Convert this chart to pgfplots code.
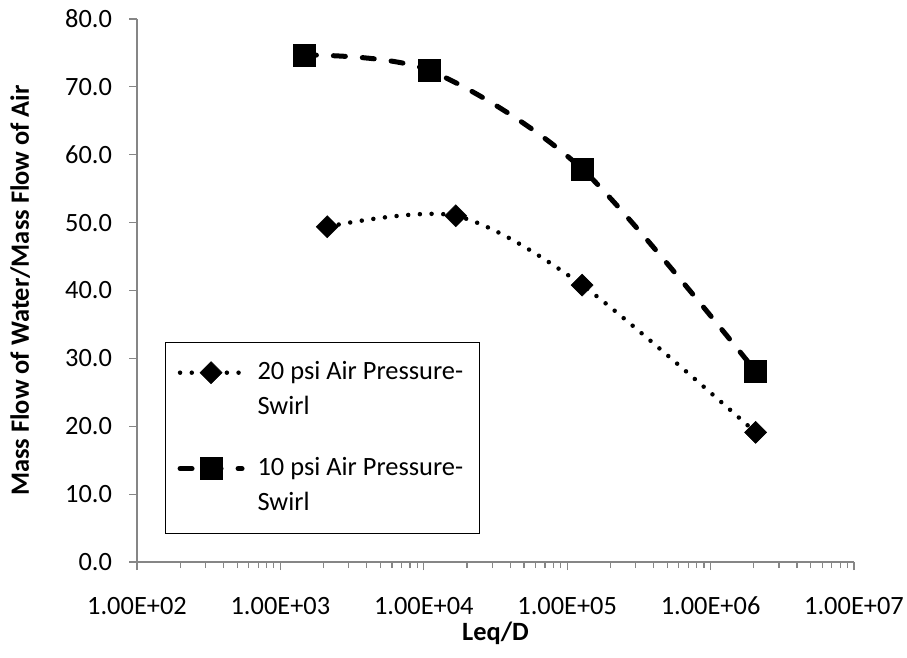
\documentclass[border=0pt]{standalone}
\usepackage{pgfplots}
\pgfplotsset{compat=1.18}
\usepackage{fontspec}
\setmainfont{Carlito}
\definecolor{axgray}{RGB}{134,134,134}
\begin{document}
\fontsize{26.5}{32}\selectfont
\begin{tikzpicture}
\useasboundingbox (-137bp,-96bp) rectangle (770bp,562bp);
\begin{axis}[
  scale only axis,
  width=717bp, height=543bp,
  xmode=log, log basis x=10,
  xmin=100, xmax=1e7,
  ymin=0, ymax=80,
  axis x line=bottom, axis y line=left,
  axis line style={draw=axgray, line width=1.5bp, -},
  tick style={draw=axgray, line width=1.2bp},
  tick align=outside,
  major tick length=8bp, minor tick length=6bp,
  xtick={1e2,1e3,1e4,1e5,1e6,1e7},
  xticklabels={1.00E+02,1.00E+03,1.00E+04,1.00E+05,1.00E+06,1.00E+07},
  minor xtick={200,300,400,500,600,700,800,900,
    2000,3000,4000,5000,6000,7000,8000,9000,
    20000,30000,40000,50000,60000,70000,80000,90000,
    200000,300000,400000,500000,600000,700000,800000,900000,
    2000000,3000000,4000000,5000000,6000000,7000000,8000000,9000000},
  ytick={0,10,20,30,40,50,60,70,80},
  yticklabel style={xshift=-8bp, /pgf/number format/fixed, /pgf/number format/fixed zerofill, /pgf/number format/precision=1},
  /pgf/number format/assume math mode=true,
  xticklabel style={yshift=-18bp},
  tick label style={font=\fontsize{26.5}{32}\selectfont},
  every axis y label/.style={at={(axis description cs:-0.163,0.5)}, rotate=90, anchor=center, font=\fontsize{26.5}{32}\selectfont\bfseries},
  every axis x label/.style={at={(axis description cs:0.5,-0.132)}, anchor=center, font=\fontsize{26.5}{32}\selectfont\bfseries},
  ylabel={Mass Flow of Water/Mass Flow of Air},
  xlabel={Leq/D},
  legend cell align=left,
  legend style={at={(axis description cs:0.039,0.405)}, anchor=north west,
    draw=black, line width=1.2bp, fill=white,
    font=\fontsize{26.5}{35}\selectfont,
    nodes={align=left, inner sep=4bp},
    row sep=31bp, column sep=9bp, inner xsep=12bp, inner ysep=15bp},
  legend image code/.code={\draw[mark repeat=2,mark phase=2,#1] plot coordinates {(0bp,17.5bp)(31bp,17.5bp)(62bp,17.5bp)};},
]
\addplot[black, line width=4.5bp, line cap=round, dash pattern=on 0bp off 11.7bp, smooth, tension=0.5,
  mark=square*, mark size=7.8bp, mark options={solid, rotate=45, fill=black, line width=0.5bp}]
  coordinates {(2120,49.4) (16700,51.0) (127000,40.8) (2060000,19.1)};
\addlegendentry{20 psi Air Pressure-\\Swirl}
\addplot[black, line width=5bp, line cap=round, dash pattern=on 12bp off 17bp, smooth, tension=0.5,
  mark=square*, mark size=11bp, mark options={solid, fill=black, line width=0.5bp}]
  coordinates {(1470,74.7) (11000,72.4) (127000,57.9) (2060000,28.1)};
\addlegendentry{10 psi Air Pressure-\\Swirl}
\end{axis}
\end{tikzpicture}
\end{document}
